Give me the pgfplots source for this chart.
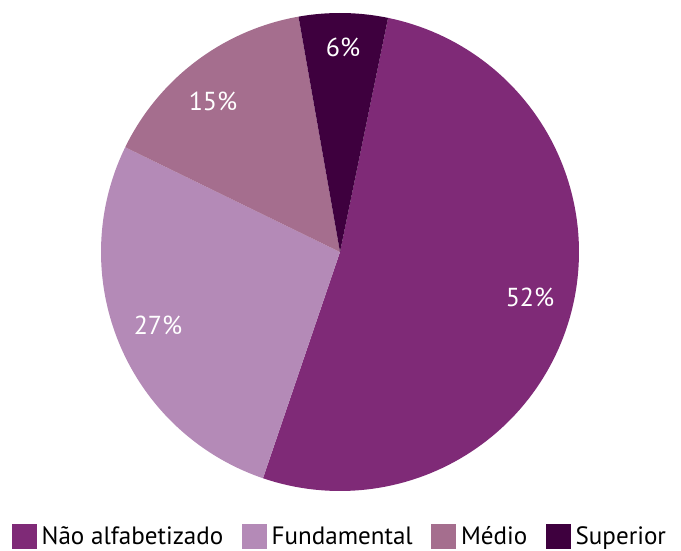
\documentclass[border=0pt]{standalone}
\usepackage{fontspec}
\setmainfont{PT Sans}
\usepackage{pgfplots}
\usepackage{pgfplotstable}
\pgfplotsset{compat=1.18}

\definecolor{cNao}{HTML}{7F2A77}
\definecolor{cFund}{HTML}{B48AB7}
\definecolor{cMed}{HTML}{A56E8E}
\definecolor{cSup}{HTML}{3E003E}

% share of each schooling level, in percent
\pgfplotstableread{
pct
52
27
15
6
}\piedata

\begin{document}
\begin{tikzpicture}
% angles of the slice edges, clockwise from the start
\def\startang{78.4}
\pgfplotstablegetelem{0}{pct}\of\piedata \edef\pA{\pgfplotsretval}
\pgfplotstablegetelem{1}{pct}\of\piedata \edef\pB{\pgfplotsretval}
\pgfplotstablegetelem{2}{pct}\of\piedata \edef\pC{\pgfplotsretval}
\pgfplotstablegetelem{3}{pct}\of\piedata \edef\pD{\pgfplotsretval}
\pgfmathsetmacro\aA{\startang}
\pgfmathsetmacro\aB{\aA-3.6*\pA}
\pgfmathsetmacro\aC{\aB-3.6*\pB}
\pgfmathsetmacro\aD{\aC-3.6*\pC}
\pgfmathsetmacro\aE{\aD-3.6*\pD}
\def\cx{340}\def\cy{298}\def\R{239}
\begin{axis}[
    width=510.75pt, height=412.5pt, scale only axis,
    xmin=0, xmax=681, ymin=0, ymax=550,
    hide axis, clip=false,
    legend columns=4,
    legend style={at={(axis cs:12,13.5)}, anchor=west, draw=none, fill=none,
        inner sep=0pt, outer sep=0pt, font=\fontsize{18.8}{22}\selectfont,
        /tikz/every odd column/.style={column sep=1.5pt},
        /tikz/every even column/.style={column sep=12pt}},
    legend cell align=left,
    legend image code/.code={\fill[#1] (0pt,-9.4pt) rectangle (18.75pt,9.4pt);},
]
\addplot[fill=cNao, draw=none, domain=\aB:\aA, samples=120]
    ({\cx+\R*cos(x)},{\cy+\R*sin(x)}) -- (axis cs:\cx,\cy) -- cycle;
\addlegendentry{Não alfabetizado}
\addplot[fill=cFund, draw=none, domain=\aC:\aB, samples=80]
    ({\cx+\R*cos(x)},{\cy+\R*sin(x)}) -- (axis cs:\cx,\cy) -- cycle;
\addlegendentry{Fundamental}
\addplot[fill=cMed, draw=none, domain=\aD:\aC, samples=60]
    ({\cx+\R*cos(x)},{\cy+\R*sin(x)}) -- (axis cs:\cx,\cy) -- cycle;
\addlegendentry{Médio}
\addplot[fill=cSup, draw=none, domain=\aE:\aD, samples=40]
    ({\cx+\R*cos(x)},{\cy+\R*sin(x)}) -- (axis cs:\cx,\cy) -- cycle;
\addlegendentry{Superior}
\begin{scope}[every node/.style={text=white, font=\fontsize{19.5}{21}\selectfont}]
\node at (axis cs:530,253) {52\%};
\node at (axis cs:158,225) {27\%};
\node at (axis cs:213,449) {15\%};
\node at (axis cs:343,503) {6\%};
\end{scope}
\end{axis}
\pgfresetboundingbox
\useasboundingbox (current axis.south west) rectangle (current axis.north east);
\end{tikzpicture}
\end{document}
